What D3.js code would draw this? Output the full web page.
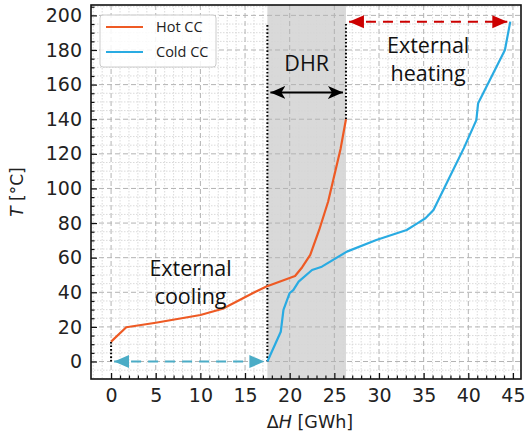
<!DOCTYPE html>
<html>
<head>
<meta charset="utf-8">
<script src="https://cdn.jsdelivr.net/npm/d3@7"></script>
<style>
  body { margin: 0; background: #fff; }
  svg { display: block; font-family: 'DejaVu Sans', sans-serif; }
  .grid-major line { stroke: #b3b3b3; stroke-dasharray: 5,3; stroke-width: 1; }
  .grid-minor line { stroke: #d6d6d6; stroke-dasharray: 1.5,1.5; stroke-width: 0.9; }
  .axis text { font-size: 19px; fill: #222; font-family: 'DejaVu Sans', sans-serif; }
  .axis line { stroke: #111; stroke-width: 1.2; }
  .axis path { display: none; }
  .annot { font-family: 'Open Sans', sans-serif; font-size: 21.5px; fill: #111; text-anchor: middle; }
  .legend text { font-family: 'Open Sans', sans-serif; font-size: 14.5px; fill: #222; }
</style>
</head>
<body>
<div id="vis"></div>
<script>
'use strict'

// composite curves
const hotH = [0, 1.7, 5, 10, 12.5, 15.9, 17.4, 20.6, 21.4, 22.3, 23.3, 24.3, 25.7, 26.3]
const hotT = [11.5, 19.8, 22.4, 26.9, 30.5, 39.6, 43.4, 49.4, 54.5, 61.6, 76, 92.3, 123, 140]

const coldH = [17.5, 19.0, 19.3, 20.0, 20.4, 21.0, 22.5, 23.6, 26.4, 29.7, 33.1, 34.2, 35.2, 36.1, 37.2, 39.5, 40.9, 41.1, 44.1, 44.7]
const coldT = [0, 17.2, 29.8, 39.6, 41.3, 46.2, 52.9, 54.8, 63.5, 70.2, 76.0, 79.5, 82.8, 87.6, 99.1, 123.3, 139.5, 149.3, 180.0, 196.4]

const xTicks = [0, 5, 10, 15, 20, 25, 30, 35, 40, 45]
const yTicks = [0, 20, 40, 60, 80, 100, 120, 140, 160, 180, 200]

// heat recovery window and arrows
const dhrStart = 17.5
const dhrEnd = 26.3
const dhrArrowT = 155.5
const heatingArrowT = 196.3
const dividerTop = 195.5

const seriesNames = ['Hot CC', 'Cold CC']
const seriesColors = ['#ee5a24', '#29abe2']

drawChart()

function drawChart() {

  //
  // CHART CONFIG
  //

  const totalWidth = 525
  const totalHeight = 441
  const plot = { left: 91, right: 521, top: 5, bottom: 379 }

  const x = d3.scaleLinear()
    .domain([-2.25, 45.9])
    .range([plot.left, plot.right])

  const y = d3.scaleLinear()
    .domain([-10.1, 206])
    .range([plot.bottom, plot.top])

  const svg = d3.select('div#vis')
    .append('svg')
      .attr('width', totalWidth)
      .attr('height', totalHeight)

  const defs = svg.append('defs')

  defs.append('clipPath')
      .attr('id', 'clip')
    .append('rect')
      .attr('x', plot.left)
      .attr('y', plot.top)
      .attr('width', plot.right - plot.left)
      .attr('height', plot.bottom - plot.top)

  function arrowMarker(id, color, notched) {
    defs.append('marker')
        .attr('id', id)
        .attr('markerUnits', 'userSpaceOnUse')
        .attr('viewBox', '0 0 16 14')
        .attr('markerWidth', 16)
        .attr('markerHeight', 14)
        .attr('refX', 15)
        .attr('refY', 7)
        .attr('orient', 'auto-start-reverse')
      .append('path')
        .attr('d', notched ? 'M0,0.5 L15,7 L0,13.5 L4,7 Z' : 'M0,0.5 L15,7 L0,13.5 Z')
        .attr('fill', color)
  }
  arrowMarker('head-red', '#cc0000', false)
  arrowMarker('head-blue', '#4bacc6', false)
  arrowMarker('head-black', '#000', true)

  //
  // BACKGROUND & GRID
  //

  const inner = svg.append('g').attr('clip-path', 'url(#clip)')

  inner.append('rect')
      .attr('x', x(dhrStart))
      .attr('y', plot.top)
      .attr('width', x(dhrEnd) - x(dhrStart))
      .attr('height', plot.bottom - plot.top)
      .attr('fill', '#d9d9d9')

  const minorX = d3.range(-2, 46, 1).filter(v => v % 5 !== 0)
  const minorY = d3.range(-10, 206, 5).filter(v => v % 20 !== 0)

  const gMinor = inner.append('g').classed('grid-minor', true)
  gMinor.selectAll('line.vx')
    .data(minorX)
    .join('line')
      .attr('x1', d => x(d)).attr('x2', d => x(d))
      .attr('y1', plot.top).attr('y2', plot.bottom)
  gMinor.selectAll('line.hy')
    .data(minorY)
    .join('line')
      .attr('y1', d => y(d)).attr('y2', d => y(d))
      .attr('x1', plot.left).attr('x2', plot.right)

  const gMajor = inner.append('g').classed('grid-major', true)
  gMajor.selectAll('line.vx')
    .data(xTicks)
    .join('line')
      .attr('x1', d => x(d)).attr('x2', d => x(d))
      .attr('y1', plot.top).attr('y2', plot.bottom)
  gMajor.selectAll('line.hy')
    .data(yTicks)
    .join('line')
      .attr('y1', d => y(d)).attr('y2', d => y(d))
      .attr('x1', plot.left).attr('x2', plot.right)

  //
  // DIVIDERS & ARROWS
  //

  const dotted = [
    [0, 0, 0, hotT[0]]
  , [dhrStart, 0, dhrStart, dividerTop]
  , [dhrEnd, hotT[hotT.length - 1], dhrEnd, dividerTop]
  ]
  inner.selectAll('line.divider')
    .data(dotted)
    .join('line')
      .classed('divider', true)
      .attr('x1', d => x(d[0])).attr('y1', d => y(d[1]))
      .attr('x2', d => x(d[2])).attr('y2', d => y(d[3]))
      .attr('stroke', '#000')
      .attr('stroke-width', 2)
      .attr('stroke-dasharray', '1.6,2')

  const arrows = [
    { x1: dhrStart, x2: dhrEnd, t: dhrArrowT, color: '#000', head: 'head-black', dash: null }
  , { x1: dhrEnd, x2: coldH[coldH.length - 1], t: heatingArrowT, color: '#cc0000', head: 'head-red', dash: '10,7' }
  , { x1: 0, x2: dhrStart, t: 0, color: '#4bacc6', head: 'head-blue', dash: '10,7' }
  ]
  inner.selectAll('line.arrow')
    .data(arrows)
    .join('line')
      .classed('arrow', true)
      .attr('x1', d => x(d.x1) + 3).attr('x2', d => x(d.x2) - 3)
      .attr('y1', d => y(d.t)).attr('y2', d => y(d.t))
      .attr('stroke', d => d.color)
      .attr('stroke-width', 2)
      .attr('stroke-dasharray', d => d.dash)
      .attr('marker-start', d => 'url(#' + d.head + ')')
      .attr('marker-end', d => 'url(#' + d.head + ')')

  //
  // CURVES
  //

  const line = d3.line()
    .x(d => x(d[0]))
    .y(d => y(d[1]))

  const series = [
    d3.zip(hotH, hotT)
  , d3.zip(coldH, coldT)
  ]
  inner.selectAll('path.curve')
    .data(series)
    .join('path')
      .classed('curve', true)
      .attr('d', line)
      .attr('fill', 'none')
      .attr('stroke', (d, i) => seriesColors[i])
      .attr('stroke-width', 2.2)
      .attr('stroke-linejoin', 'round')

  //
  // ANNOTATIONS
  //

  const labels = [
    { text: 'DHR', h: 21.9, t: 168 }
  , { text: 'External', h: 35.5, t: 178.2 }
  , { text: 'heating', h: 35.5, t: 162.2 }
  , { text: 'External', h: 8.9, t: 49.7 }
  , { text: 'cooling', h: 8.9, t: 33.4 }
  ]
  svg.selectAll('text.annot')
    .data(labels)
    .join('text')
      .classed('annot', true)
      .attr('x', d => x(d.h))
      .attr('y', d => y(d.t))
      .text(d => d.text)

  //
  // AXES
  //

  svg.append('g')
      .classed('axis', true)
      .attr('transform', 'translate(0,' + plot.bottom + ')')
      .call(d3.axisBottom(x).tickValues(minorX.filter(v => v >= 0)).tickSize(-3.5).tickFormat(''))
  svg.append('g')
      .classed('axis', true)
      .attr('transform', 'translate(0,' + plot.bottom + ')')
      .call(d3.axisBottom(x).tickValues(xTicks).tickSize(-6).tickPadding(10))

  svg.append('g')
      .classed('axis', true)
      .attr('transform', 'translate(' + plot.left + ',0)')
      .call(d3.axisLeft(y).tickValues(minorY.filter(v => v >= 0)).tickSize(-3.5).tickFormat(''))
  svg.append('g')
      .classed('axis', true)
      .attr('transform', 'translate(' + plot.left + ',0)')
      .call(d3.axisLeft(y).tickValues(yTicks).tickSize(-6).tickPadding(9))

  svg.append('rect') // frame
      .attr('x', plot.left)
      .attr('y', plot.top)
      .attr('width', plot.right - plot.left)
      .attr('height', plot.bottom - plot.top)
      .attr('fill', 'none')
      .attr('stroke', '#111')
      .attr('stroke-width', 1.6)

  const xLabel = svg.append('text')
      .attr('x', 310)
      .attr('y', 428)
      .attr('text-anchor', 'middle')
      .style('font-size', '17.5px')
      .attr('fill', '#222')
  xLabel.append('tspan').text('Δ')
  xLabel.append('tspan').style('font-style', 'italic').text('H')
  xLabel.append('tspan').text(' [GWh]')

  const yLabel = svg.append('text')
      .attr('transform', 'translate(23,' + ((plot.top + plot.bottom) / 2) + ') rotate(-90)')
      .attr('text-anchor', 'middle')
      .style('font-size', '17px')
      .attr('fill', '#222')
  yLabel.append('tspan').style('font-style', 'italic').text('T')
  yLabel.append('tspan').text(' [°C]')

  //
  // LEGEND
  //

  const legend = svg.append('g').classed('legend', true)
  legend.append('rect')
      .attr('x', 100).attr('y', 15)
      .attr('width', 116).attr('height', 52)
      .attr('rx', 3)
      .attr('fill', 'rgba(255,255,255,0.85)')
      .attr('stroke', '#cccccc')

  const entries = legend.selectAll('g.entry')
    .data(seriesNames)
    .join('g')
      .classed('entry', true)
      .attr('transform', (d, i) => 'translate(106,' + (27 + i * 25) + ')')
  entries.append('line')
      .attr('x1', 0).attr('x2', 37)
      .attr('stroke', (d, i) => seriesColors[i])
      .attr('stroke-width', 2.2)
  entries.append('text')
      .attr('x', 50)
      .attr('dy', '0.35em')
      .text(d => d)

}
</script>
</body>
</html>
